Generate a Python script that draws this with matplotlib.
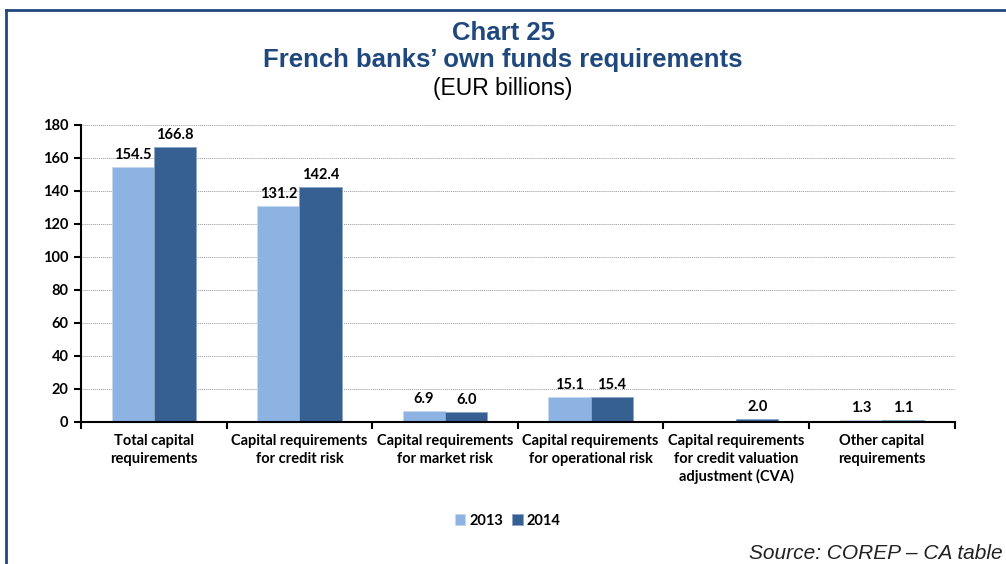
import numpy as np
import matplotlib
matplotlib.use("Agg")
import matplotlib.pyplot as plt

# Own funds requirements, EUR billions
categories = [
    "Total capital\nrequirements",
    "Capital requirements\nfor credit risk",
    "Capital requirements\nfor market risk",
    "Capital requirements\nfor operational risk",
    "Capital requirements\nfor credit valuation\nadjustment (CVA)",
    "Other capital\nrequirements",
]
values_2013 = [154.5, 131.2, 6.9, 15.1, np.nan, 1.3]
values_2014 = [166.8, 142.4, 6.0, 15.4, 2.0, 1.1]
years = ["2013", "2014"]

light_blue = "#8DB3E2"
dark_blue = "#376092"
title_blue = "#1F497D"

label_font = "Lato"
fs = 10.5

fig = plt.figure(figsize=(10.06, 5.64), dpi=100)
ax = fig.add_axes([0.0805, 0.2518, 0.8685, 0.5266])

x = np.arange(len(categories))
w = 0.29

b1 = ax.bar(x - w / 2, values_2013, w, color=light_blue, label=years[0],
            edgecolor="#C6D9F1", linewidth=0.6)
b2 = ax.bar(x + w / 2, values_2014, w, color=dark_blue, label=years[1],
            edgecolor="#8AA6C8", linewidth=0.6)

for bars, vals in [(b1, values_2013), (b2, values_2014)]:
    for rect, v in zip(bars, vals):
        if np.isnan(v):
            continue
        ax.text(rect.get_x() + rect.get_width() / 2, v + 3, f"{v:.1f}",
                ha="center", va="bottom", fontsize=fs, fontweight="bold",
                family=label_font)

ax.set_xlim(-0.5, len(categories) - 0.5)
ax.set_ylim(0, 180)
ax.set_yticks(np.arange(0, 181, 20))
ax.yaxis.grid(True, linestyle=(0, (1, 1)), color="#999999", linewidth=0.7)
ax.set_axisbelow(True)

# category boundaries carry the x ticks, names sit in between
ax.set_xticks(np.arange(-0.5, len(categories), 1.0))
ax.set_xticklabels([])
ax.tick_params(axis="x", direction="out", length=5, width=1.5)
ax.tick_params(axis="y", direction="out", length=5, width=1.5, pad=4)
for lbl in ax.get_yticklabels():
    lbl.set_fontweight("bold")
    lbl.set_fontsize(fs)
    lbl.set_family(label_font)

for i, name in enumerate(categories):
    ax.text(i, -7.5, name, ha="center", va="top", fontsize=fs,
            fontweight="bold", family=label_font, linespacing=1.3)

for side in ["top", "right"]:
    ax.spines[side].set_visible(False)
ax.spines["left"].set_linewidth(1.5)
ax.spines["bottom"].set_linewidth(1.5)

fig.legend(handles=[b1, b2], labels=years, loc="center",
           bbox_to_anchor=(0.505, 0.077), ncol=2, frameon=False,
           handlelength=0.7, handleheight=0.7, handletextpad=0.3,
           columnspacing=0.6,
           prop={"family": label_font, "weight": "bold", "size": fs})

fig.text(0.5, 0.942, "Chart 25", ha="center", va="center", fontsize=18.5,
         fontweight="bold", color=title_blue, family="Liberation Sans")
fig.text(0.5, 0.893, "French banks\u2019 own funds requirements", ha="center",
         va="center", fontsize=18.5, fontweight="bold", color=title_blue,
         family="Liberation Sans")
fig.text(0.5, 0.843, "(EUR billions)", ha="center", va="center",
         fontsize=16.5, color="black", family="Liberation Sans")

fig.text(0.997, 0.0195, "Source: COREP \u2013 CA table", ha="right",
         va="center", fontsize=15, style="italic", color="#222222",
         family="Liberation Sans")

# frame around the chart (top and left edges are visible)
fig.add_artist(plt.Line2D([0.006, 1.0], [0.982, 0.982], color=title_blue,
                          linewidth=2, transform=fig.transFigure))
fig.add_artist(plt.Line2D([0.006, 0.006], [0.0, 0.982], color=title_blue,
                          linewidth=2, transform=fig.transFigure))

fig.savefig("out.png", dpi=100)
